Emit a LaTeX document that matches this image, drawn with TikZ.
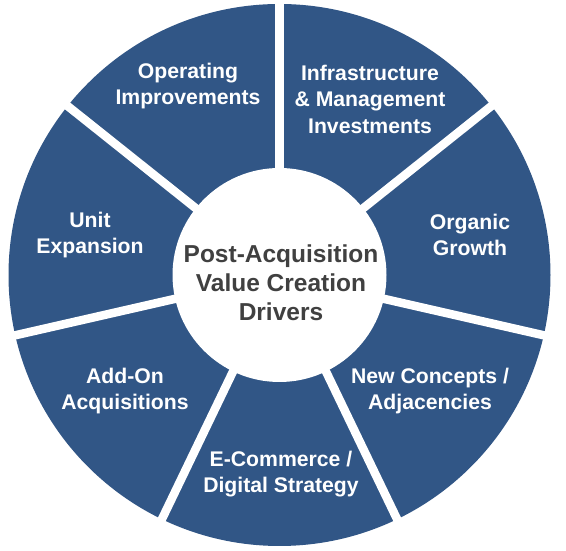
\documentclass[tikz,border=0pt]{standalone}
\usepackage{fontspec}
\setmainfont{Liberation Sans}
\definecolor{ringblue}{RGB}{49,86,134}
\definecolor{centergray}{RGB}{64,64,64}
\begin{document}
\begin{tikzpicture}[x=1pt,y=1pt,
  seglabel/.style={text=white,align=center,font=\fontsize{21.2}{26.5}\selectfont\bfseries,inner sep=0pt},
  centerlabel/.style={text=centergray,align=center,font=\fontsize{24.5}{29}\selectfont\bfseries,inner sep=0pt},
  gapline/.style={white,line width=8.5pt}]
\useasboundingbox (0,0) rectangle (566,551);
\fill[white] (0,0) rectangle (566,551);
\coordinate (C) at (279.5,276);
\fill[ringblue] (C) circle[radius=271];
\foreach \a in {90,38.571,-12.857,-64.286,-115.714,-167.143,141.429}{
  \draw[gapline] (C) -- ++(\a:280);
}
\fill[white] (C) circle[radius=107];
\node[centerlabel] (center) at (281,268) {Post-Acquisition\\Value Creation\\Drivers};
\node[seglabel] (oper) at (188,465) {Operating\\Improvements};
\node[seglabel] (infra) at (370,452) {Infrastructure\\\& Management\\Investments};
\node[seglabel] (organic) at (470,316) {Organic\\Growth};
\node[seglabel] (newc) at (430,160) {New Concepts /\\Adjacencies};
\node[seglabel] (ecom) at (281,77) {E-Commerce /\\Digital Strategy};
\node[seglabel] (addon) at (125,160) {Add-On\\Acquisitions};
\node[seglabel] (unit) at (90,316) {Unit\\Expansion};
\end{tikzpicture}
\end{document}
